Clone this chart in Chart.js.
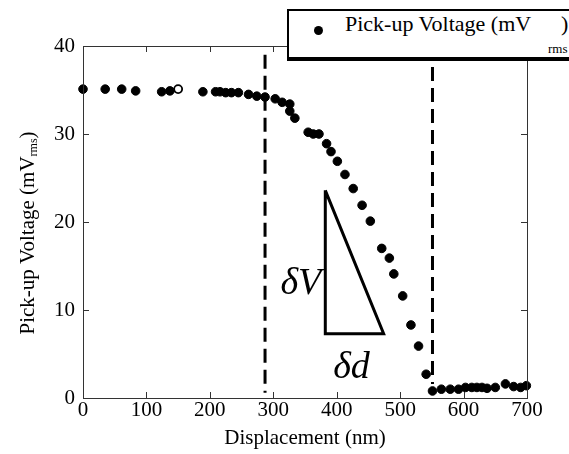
<!DOCTYPE html>
<html>
<head>
<meta charset="utf-8">
<script src="https://cdn.jsdelivr.net/npm/chart.js@4.4.1/dist/chart.umd.min.js"></script>
<style>
  body { margin: 0; background: #fff; }
  #wrap { position: relative; width: 569px; height: 454px; font-family: "Liberation Serif", "Times New Roman", Times, "DejaVu Serif", serif; }
  #legend {
    position: absolute; left: 287px; top: 9px; width: 300px; height: 46px;
    border: 2px solid #000; border-right-width: 4px; border-bottom-width: 4px; background: #fff;
  }
  #legend .dot { position: absolute; left: 25px; top: 15px; width: 9px; height: 9px; border-radius: 50%; background: #000; }
  #legend .txt { position: absolute; left: 56px; top: 0px; font-size: 22px; white-space: nowrap; }
  #legend .sub { position: absolute; left: 259px; top: 30px; font-size: 13px; }
  #legend .par { position: absolute; left: 272px; top: 0px; font-size: 22px; }
</style>
</head>
<body>
<div id="wrap">
  <canvas id="chart" width="569" height="454"></canvas>
  <div id="legend">
    <span class="dot"></span>
    <span class="txt">Pick-up Voltage (mV</span>
    <span class="sub">rms</span>
    <span class="par">)</span>
  </div>
</div>
<script>
// measured points (nm, mV rms)
const displacement = [0, 35, 61, 83, 124, 137, 189, 209, 216, 225, 234, 245, 261, 274, 287, 303, 314, 326, 326, 334,
  355, 363, 372, 384, 391, 401, 413, 426, 440, 453, 471, 483, 490, 504, 517, 529, 541, 551,
  565, 579, 592, 603, 613, 621, 629, 637, 650, 666, 679, 690, 699];
const voltage = [35.1, 35.1, 35.1, 34.9, 34.8, 34.9, 34.8, 34.8, 34.8, 34.7, 34.7, 34.7, 34.5, 34.3, 34.2, 34.0, 33.6, 33.4, 32.6, 31.8,
  30.2, 30.0, 30.0, 28.9, 28.0, 26.9, 25.4, 23.8, 21.9, 20.1, 17.0, 15.9, 14.1, 11.6, 8.3, 5.9, 2.7, 0.8,
  1.0, 1.0, 1.0, 1.2, 1.2, 1.2, 1.2, 1.1, 1.2, 1.6, 1.3, 1.2, 1.4];
// the one open circle
const openX = [150];
const openY = [35.1];

// dashed markers
const leftLineX = [287, 287];
const leftLineY = [39, 0.6];
const rightLineX = [551, 551];
const rightLineY = [40, 1.6];

// slope triangle
const triX = [382, 382, 474, 382];
const triY = [23.6, 7.3, 7.3, 23.6];

const xTicks = [0, 100, 200, 300, 400, 500, 600, 700];
const yTicks = [0, 10, 20, 30, 40];

const pts = (xs, ys) => xs.map((x, i) => ({ x: x, y: ys[i] }));
const serif = '"Liberation Serif", "Times New Roman", Times, "DejaVu Serif", serif';

const frame = {
  id: 'frame',
  afterDraw(chart) {
    const c = chart.ctx, a = chart.chartArea;
    const xs = chart.scales.x, ys = chart.scales.y;
    c.save();
    c.strokeStyle = '#333';
    c.lineWidth = 1;
    c.strokeRect(a.left + 0.5, a.top + 0.5, a.right - a.left, a.bottom - a.top);
    c.beginPath();
    xTicks.forEach(v => {
      const p = Math.round(xs.getPixelForValue(v)) + 0.5;
      c.moveTo(p, a.bottom); c.lineTo(p, a.bottom - 6);
      c.moveTo(p, a.top); c.lineTo(p, a.top + 6);
    });
    yTicks.forEach(v => {
      const p = Math.round(ys.getPixelForValue(v)) + 0.5;
      c.moveTo(a.left, p); c.lineTo(a.left + 6, p);
      c.moveTo(a.right, p); c.lineTo(a.right - 6, p);
    });
    c.stroke();

    // axis titles
    c.fillStyle = '#000';
    c.font = '21px ' + serif;
    c.textAlign = 'center';
    c.textBaseline = 'middle';
    c.fillText('Displacement (nm)', (a.left + a.right) / 2, 438);

    c.translate(27, 233);
    c.rotate(-Math.PI / 2);
    const main = 'Pick-up Voltage (mV';
    c.font = '21px ' + serif;
    const w1 = c.measureText(main).width;
    c.font = '12px ' + serif;
    const w2 = c.measureText('rms').width;
    c.font = '21px ' + serif;
    const w3 = c.measureText(')').width;
    let x0 = -(w1 + w2 + w3) / 2;
    c.textAlign = 'left';
    c.textBaseline = 'alphabetic';
    c.fillText(main, x0, 7);
    c.font = '12px ' + serif;
    c.fillText('rms', x0 + w1, 10);
    c.font = '21px ' + serif;
    c.fillText(')', x0 + w1 + w2, 7);

    // slope labels
    c.setTransform(1, 0, 0, 1, 0, 0);
    c.font = 'italic 38px ' + serif;
    c.textAlign = 'right';
    c.textBaseline = 'middle';
    c.fillText('\u03B4V', xs.getPixelForValue(triX[0]) - 4, ys.getPixelForValue(13));
    c.textAlign = 'center';
    c.fillText('\u03B4d', xs.getPixelForValue((triX[1] + triX[2]) / 2) - 3, ys.getPixelForValue(3.4));
    c.restore();
  }
};

new Chart(document.getElementById('chart'), {
  type: 'scatter',
  data: {
    datasets: [{
      data: pts(displacement, voltage),
      backgroundColor: '#000',
      borderColor: '#000',
      pointRadius: 4.3,
      clip: false,
    }, {
      data: pts(openX, openY),
      backgroundColor: '#fff',
      borderColor: '#000',
      borderWidth: 1.8,
      pointRadius: 4,
      clip: false,
    }, {
      type: 'line',
      data: pts(leftLineX, leftLineY),
      borderColor: '#000',
      borderWidth: 3,
      borderDash: [14, 7],
      pointRadius: 0,
    }, {
      type: 'line',
      data: pts(rightLineX, rightLineY),
      borderColor: '#000',
      borderWidth: 3,
      borderDash: [14, 7],
      pointRadius: 0,
    }, {
      type: 'line',
      data: pts(triX, triY),
      borderColor: '#000',
      borderWidth: 3,
      pointRadius: 0,
      tension: 0,
    }]
  },
  options: {
    responsive: false,
    animation: false,
    layout: { padding: { left: 0, top: 46, right: 42, bottom: 0 } },
    plugins: { legend: { display: false }, tooltip: { enabled: false } },
    scales: {
      x: {
        type: 'linear', min: 0, max: 700,
        afterFit: s => { s.height = 56; },
        afterBuildTicks: s => { s.ticks = xTicks.map(v => ({ value: v })); },
        grid: { display: false, drawTicks: false },
        border: { display: false },
        ticks: { color: '#000', padding: 0, font: { family: serif, size: 21 } }
      },
      y: {
        min: 0, max: 40,
        afterFit: s => { s.width = 83; },
        afterBuildTicks: s => { s.ticks = yTicks.map(v => ({ value: v })); },
        grid: { display: false, drawTicks: false },
        border: { display: false },
        ticks: { color: '#000', padding: 8, font: { family: serif, size: 21 } }
      }
    }
  },
  plugins: [frame]
});
</script>
</body>
</html>
